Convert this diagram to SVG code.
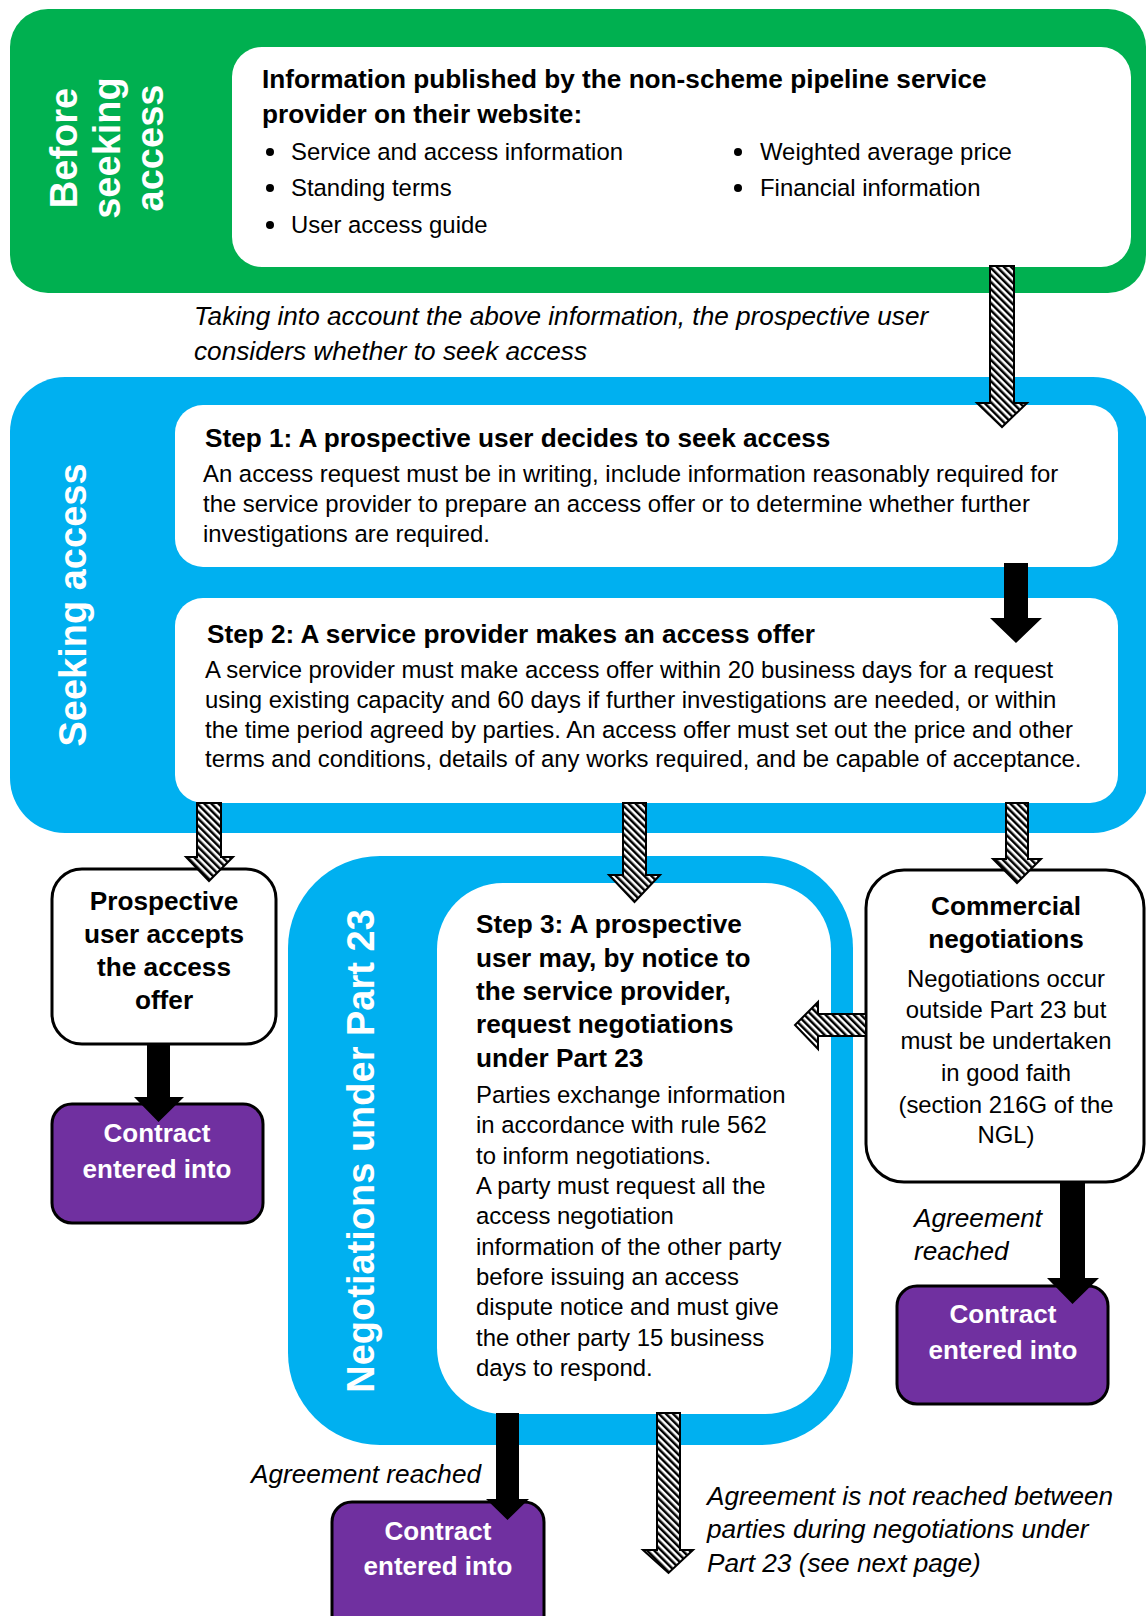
<svg xmlns="http://www.w3.org/2000/svg" width="1146" height="1616" viewBox="0 0 1146 1616">
<style>
  text { font-family: "Liberation Sans", Arial, sans-serif; fill: #000; }
  .b { font-weight: bold; font-size: 26.2px; }
  .r { font-size: 23.9px; }
  .i { font-style: italic; font-size: 26.2px; }
  .v { font-weight: bold; font-size: 38px; fill: #fff; }
  .w { font-weight: bold; font-size: 26px; fill: #fff; }
  .c { text-anchor: middle; }
  .green { fill: #00B050; }
  .blue { fill: #00B0F0; }
  .white { fill: #fff; }
  .outl { fill: #fff; stroke: #000; stroke-width: 3; }
  .purple { fill: #7030A0; stroke: #000; stroke-width: 3; }
  .hatch { fill: url(#hatch); stroke: #000; stroke-width: 2; stroke-linejoin: miter; }
  .solid { fill: #000; }
</style>
<defs>
  <pattern id="hatch" width="5" height="5" patternUnits="userSpaceOnUse" patternTransform="rotate(-45)">
    <rect width="5" height="5" fill="#fff"/>
    <rect width="2.5" height="5" fill="#000"/>
  </pattern>
</defs>

<g id="before-seeking">
  <rect class="green" x="10" y="9" width="1136" height="284" rx="38"/>
  <text class="v c" transform="translate(77,148) rotate(-90)">Before</text>
  <text class="v c" transform="translate(120,148) rotate(-90)">seeking</text>
  <text class="v c" transform="translate(163,148) rotate(-90)">access</text>
</g>

<g id="info-published">
  <rect class="white" x="232" y="47" width="899" height="220" rx="30"/>
  <text class="b" x="262" y="88">Information published by the non-scheme pipeline service</text>
  <text class="b" x="262" y="123">provider on their website:</text>
  <circle cx="270" cy="152" r="4"/>
  <text class="r" x="291" y="160">Service and access information</text>
  <circle cx="270" cy="188" r="4"/>
  <text class="r" x="291" y="196">Standing terms</text>
  <circle cx="270" cy="225" r="4"/>
  <text class="r" x="291" y="233">User access guide</text>
  <circle cx="738" cy="152" r="4"/>
  <text class="r" x="760" y="160">Weighted average price</text>
  <circle cx="738" cy="188" r="4"/>
  <text class="r" x="760" y="196">Financial information</text>
</g>

<g id="consider-label">
  <text class="i" x="194" y="325">Taking into account the above information, the prospective user</text>
  <text class="i" x="194" y="360">considers whether to seek access</text>
</g>

<g id="seeking-access">
  <rect class="blue" x="10" y="377" width="1138" height="456" rx="55"/>
  <text class="v c" transform="translate(86,605) rotate(-90)">Seeking access</text>
</g>

<g id="step1">
  <rect class="white" x="175" y="405" width="943" height="162" rx="28"/>
  <text class="b" x="205" y="447">Step 1: A prospective user decides to seek access</text>
  <text class="r" x="203" y="482">An access request must be in writing, include information reasonably required for</text>
  <text class="r" x="203" y="512">the service provider to prepare an access offer or to determine whether further</text>
  <text class="r" x="203" y="542">investigations are required.</text>
</g>

<g id="step2">
  <rect class="white" x="175" y="598" width="943" height="205" rx="28"/>
  <text class="b" x="207" y="643">Step 2: A service provider makes an access offer</text>
  <text class="r" x="205" y="678">A service provider must make access offer within 20 business days for a request</text>
  <text class="r" x="205" y="708">using existing capacity and 60 days if further investigations are needed, or within</text>
  <text class="r" x="205" y="738">the time period agreed by parties. An access offer must set out the price and other</text>
  <text class="r" x="205" y="767">terms and conditions, details of any works required, and be capable of acceptance.</text>
</g>

<g id="accepts">
  <rect class="outl" x="52" y="869" width="224" height="175" rx="30"/>
  <text class="b c" x="164" y="910">Prospective</text>
  <text class="b c" x="164" y="943">user accepts</text>
  <text class="b c" x="164" y="976">the access</text>
  <text class="b c" x="164" y="1009">offer</text>
</g>

<g id="contract1">
  <rect class="purple" x="52" y="1104" width="211" height="119" rx="20"/>
  <text class="w c" x="157" y="1142">Contract</text>
  <text class="w c" x="157" y="1178">entered into</text>
</g>

<g id="negotiations-part23">
  <rect class="blue" x="288" y="856" width="565" height="589" rx="92"/>
  <text class="v c" transform="translate(374,1151) rotate(-90)">Negotiations under Part 23</text>
</g>

<g id="step3">
  <rect class="white" x="437" y="883" width="394" height="531" rx="66"/>
  <text class="b" x="476" y="933">Step 3: A prospective</text>
  <text class="b" x="476" y="967">user may, by notice to</text>
  <text class="b" x="476" y="1000">the service provider,</text>
  <text class="b" x="476" y="1033">request negotiations</text>
  <text class="b" x="476" y="1067">under Part 23</text>
  <text class="r" x="476" y="1103">Parties exchange information</text>
  <text class="r" x="476" y="1133">in accordance with rule 562</text>
  <text class="r" x="476" y="1164">to inform negotiations.</text>
  <text class="r" x="476" y="1194">A party must request all the</text>
  <text class="r" x="476" y="1224">access negotiation</text>
  <text class="r" x="476" y="1255">information of the other party</text>
  <text class="r" x="476" y="1285">before issuing an access</text>
  <text class="r" x="476" y="1315">dispute notice and must give</text>
  <text class="r" x="476" y="1346">the other party 15 business</text>
  <text class="r" x="476" y="1376">days to respond.</text>
</g>

<g id="commercial">
  <rect class="outl" x="866" y="870" width="278" height="312" rx="38"/>
  <text class="b c" x="1006" y="915">Commercial</text>
  <text class="b c" x="1006" y="948">negotiations</text>
  <text class="r c" x="1006" y="987">Negotiations occur</text>
  <text class="r c" x="1006" y="1018">outside Part 23 but</text>
  <text class="r c" x="1006" y="1049">must be undertaken</text>
  <text class="r c" x="1006" y="1081">in good faith</text>
  <text class="r c" x="1006" y="1113">(section 216G of the</text>
  <text class="r c" x="1006" y="1143">NGL)</text>
</g>

<g id="contract3">
  <rect class="purple" x="897" y="1286" width="211" height="118" rx="20"/>
  <text class="w c" x="1003" y="1323">Contract</text>
  <text class="w c" x="1003" y="1359">entered into</text>
</g>

<g id="contract2">
  <rect class="purple" x="332" y="1502" width="212" height="140" rx="20"/>
  <text class="w c" x="438" y="1540">Contract</text>
  <text class="w c" x="438" y="1575">entered into</text>
</g>

<g id="labels">
  <text class="i" x="914" y="1227">Agreement</text>
  <text class="i" x="914" y="1260">reached</text>
  <text class="i" x="251" y="1483">Agreement reached</text>
  <text class="i" x="707" y="1505">Agreement is not reached between</text>
  <text class="i" x="707" y="1538">parties during negotiations under</text>
  <text class="i" x="707" y="1572">Part 23 (see next page)</text>
</g>

<g id="connectors">
  <path class="hatch" d="M990,266 L1014,266 L1014,403 L1027,403 L1002,427 L977,403 L990,403 Z"/>
  <path class="solid" d="M1004,563 L1028,563 L1028,618 L1042,618 L1016,643 L990,618 L1004,618 Z"/>
  <path class="hatch" d="M197,803 L221,803 L221,857 L233,857 L209,881 L186,857 L197,857 Z"/>
  <path class="hatch" d="M623,803 L646,803 L646,875 L660,875 L634.5,902 L609,875 L623,875 Z"/>
  <path class="hatch" d="M1006,803 L1028,803 L1028,859 L1041,859 L1017,883 L993,859 L1006,859 Z"/>
  <path class="hatch" d="M866,1014 L866,1036 L818,1036 L818,1049 L795,1025 L818,1002 L818,1014 Z"/>
  <path class="solid" d="M147,1044 L170,1044 L170,1097 L184,1097 L158.5,1122 L134,1097 L147,1097 Z"/>
  <path class="solid" d="M1060,1182 L1085,1182 L1085,1278 L1099,1278 L1072.5,1304 L1047,1278 L1060,1278 Z"/>
  <path class="solid" d="M496,1413 L519,1413 L519,1499 L529,1499 L507.5,1520 L486,1499 L496,1499 Z"/>
  <path class="hatch" d="M657,1413 L680,1413 L680,1550 L693,1550 L668.5,1573 L643,1550 L657,1550 Z"/>
</g>
</svg>
